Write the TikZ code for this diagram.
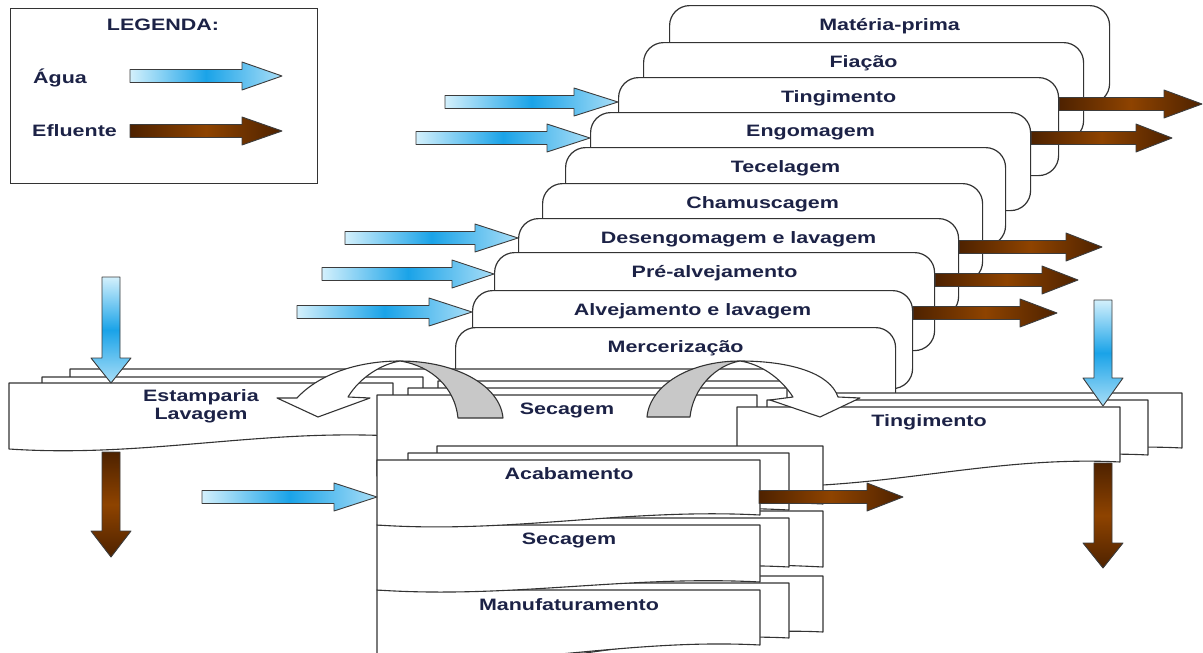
\documentclass[tikz,border=0pt]{standalone}
\usepackage{fontspec}
\newfontfamily\labfont[FakeStretch=1.3]{Liberation Sans}
\usetikzlibrary{calc}
\definecolor{ink}{HTML}{1C2246}
\definecolor{edge}{HTML}{333333}
\definecolor{arrowedge}{HTML}{3C3C3C}
\definecolor{wlight}{HTML}{D3F0FC}
\definecolor{wmid}{HTML}{1AA3E8}
\definecolor{wtip}{HTML}{A9DEF7}
\definecolor{edark}{HTML}{4E2200}
\definecolor{emid}{HTML}{8E4300}
\definecolor{gfill}{HTML}{C8C8C8}

\tikzset{
 card/.style={draw=edge, line width=1.2pt, fill=white, rounded corners=20pt, minimum width=440pt, minimum height=98pt, inner sep=0pt, anchor=north west},
 lab/.style={font=\labfont\bfseries\fontsize{16.5}{18}\selectfont, text=ink, inner sep=0pt},
 sheet/.style={draw=edge, line width=1.1pt, fill=white, line join=round},
 water/.style={draw=arrowedge, line width=0.9pt, line join=round, left color=wlight, right color=wtip, middle color=wmid},
 eff/.style={draw=arrowedge, line width=0.9pt, line join=round, left color=edark, right color=edark, middle color=emid},
 vwater/.style={draw=arrowedge, line width=0.9pt, line join=round, top color=wlight, bottom color=wtip, middle color=wmid},
 veff/.style={draw=arrowedge, line width=0.9pt, line join=round, top color=edark, bottom color=edark, middle color=emid},
 curv/.style={draw=edge, line width=1.1pt, line join=round},
}

% horizontal block arrow: [head length]{style}{from}{to}
\newcommand\harr[4][40]{\path[#2] let \p1=(#3), \p2=(#4) in
  (\x1,{\y1+6.5pt}) -- ({\x2-#1pt},{\y1+6.5pt}) -- ({\x2-#1pt},{\y1+14pt}) -- (\x2,\y1)
  -- ({\x2-#1pt},{\y1-14pt}) -- ({\x2-#1pt},{\y1-6.5pt}) -- (\x1,{\y1-6.5pt}) -- cycle;}
% vertical (downward) block arrow
\newcommand\varr[4][26]{\path[#2] let \p1=(#3), \p2=(#4) in
  ({\x1-9pt},\y1) -- ({\x1-9pt},{\y2+#1pt}) -- ({\x1-20pt},{\y2+#1pt}) -- (\x1,\y2)
  -- ({\x1+20pt},{\y2+#1pt}) -- ({\x1+9pt},{\y2+#1pt}) -- ({\x1+9pt},\y1) -- cycle;}
% document sheet: L, T, R, bottom-left, bottom-right
\newcommand\docsheet[5]{\path[sheet] (#1,#2) -- (#3,#2) -- (#3,#5)
  .. controls ({0.35*#1+0.65*#3},{#5-7}) and ({0.65*#1+0.35*#3},{#4+9}) .. (#1,#4) -- cycle;}

\begin{document}
\begin{tikzpicture}[x=1pt, y=-1pt]
\useasboundingbox (0,0) rectangle (1203,653);
\clip (0,0) rectangle (1203,653);

% ---------- legend ----------
\node[draw=edge, line width=1.2pt, minimum width=307pt, minimum height=175pt, anchor=north west, inner sep=0pt] (leg) at (10,8) {};
\node[lab] (legt) at (163,25) {LEGENDA:};
\node[lab, anchor=west] (agua) at (33,78) {Água};
\node[lab, anchor=west] (eflu) at (32,131) {Efluente};
\coordinate (la1) at (130,76); \coordinate (la2) at (282,76);
\harr{water}{la1}{la2}
\coordinate (le1) at (130,131); \coordinate (le2) at (282,131);
\harr{eff}{le1}{le2}

% ---------- upper cascade ----------
\node[card] (c1) at (669,5) {};
\node[lab] (t1) at ([yshift=-21pt]c1.north) {Matéria-prima};
\node[card] (c2) at (643,42) {};
\node[lab] (t2) at ([yshift=-21pt]c2.north) {Fiação};
\node[card] (c3) at (618,77) {};
\node[lab] (t3) at ([yshift=-21pt]c3.north) {Tingimento};
\node[card] (c4) at (590,112) {};
\node[lab] (t4) at ([yshift=-21pt]c4.north) {Engomagem};
\node[card] (c5) at (565,147) {};
\node[lab] (t5) at ([yshift=-21pt]c5.north) {Tecelagem};
\node[card] (c6) at (542,183) {};
\node[lab] (t6) at ([yshift=-21pt]c6.north) {Chamuscagem};
\node[card] (c7) at (518,218) {};
\node[lab] (t7) at ([yshift=-21pt]c7.north) {Desengomagem e lavagem};
\node[card] (c8) at (494,252) {};
\node[lab] (t8) at ([yshift=-21pt]c8.north) {Pré-alvejamento};
\node[card] (c9) at (472,290) {};
\node[lab] (t9) at ([yshift=-21pt]c9.north) {Alvejamento e lavagem};
\node[card] (c10) at (455,327) {};
\node[lab] (t10) at ([yshift=-21pt]c10.north) {Mercerização};

% water inputs
\coordinate (w3) at (445,102); \harr[44]{water}{w3}{c3.west |- w3}
\coordinate (w4) at (416,138); \harr[43]{water}{w4}{c4.west |- w4}
\coordinate (w7) at (345,238); \harr[43]{water}{w7}{c7.west |- w7}
\coordinate (w8) at (322,274); \harr[42]{water}{w8}{c8.west |- w8}
\coordinate (w9) at (297,312); \harr[43]{water}{w9}{c9.west |- w9}
% effluent outputs
\coordinate (e3) at (1202,104); \harr[38]{eff}{c3.east |- e3}{e3}
\coordinate (e4) at (1172,138); \harr[36]{eff}{c4.east |- e4}{e4}
\coordinate (e7) at (1102,247); \harr[36]{eff}{c7.east |- e7}{e7}
\coordinate (e8) at (1078,280); \harr[36]{eff}{c8.east |- e8}{e8}
\coordinate (e9) at (1057,313); \harr[37]{eff}{c9.east |- e9}{e9}

% ---------- lower stacks ----------
% Estamparia / Lavagem
\docsheet{70}{369}{787}{432}{425}
\docsheet{42}{377}{423}{440}{432}
\docsheet{9}{383}{393}{449}{436}
\node[lab] (estamp) at (201,397) {Estamparia};
\node[lab] (lavag) at (201,416) {Lavagem};
% Secagem (upper)
\docsheet{438}{381}{817}{476}{470}
\docsheet{408}{388}{787}{476}{470}
\docsheet{377}{395}{757}{476}{470}
\node[lab] (sec1) at (567,410) {Secagem};
% Tingimento (right)
\docsheet{797}{393}{1182}{470}{448}
\docsheet{767}{400}{1148}{478}{455}
\docsheet{737}{407}{1120}{485}{462}
\node[lab] (ting2) at (929,422) {Tingimento};
% Manufaturamento
\docsheet{437}{576}{823}{660}{632}
\docsheet{408}{583}{789}{660}{638}
\docsheet{377}{590}{760}{660}{645}
\node[lab] (manuf) at (569,605) {Manufaturamento};
% Secagem (lower)
\docsheet{437}{511}{823}{562}{567}
\docsheet{408}{518}{789}{575}{567}
\docsheet{377}{525}{760}{590}{582}
\node[lab] (sec2) at (569,540) {Secagem};
% Acabamento
\docsheet{437}{446}{823}{500}{504}
\docsheet{408}{453}{789}{512}{510}
\docsheet{377}{460}{760}{525}{515}
\node[lab] (acab) at (569,474) {Acabamento};

% ---------- curved arrows ----------
\path[curv, fill=gfill] (400,361) .. controls (455,361) and (500,385) .. (503,418) -- (458,418)
  .. controls (455,388) and (432,366) .. (400,361) -- cycle;
\path[curv, fill=white] (348,397) -- (370,398) -- (318,417) -- (277,398) -- (297,398)
  .. controls (320,373) and (360,361) .. (400,361) .. controls (382,364) and (360,377) .. (348,397) -- cycle;

\path[curv, fill=gfill] (647,417) .. controls (650,385) and (690,361) .. (740,361)
  .. controls (716,365) and (693,388) .. (690,417) -- cycle;
\path[curv, fill=white] (740,361) .. controls (790,361) and (830,373) .. (838,397) -- (860,398)
  -- (820,417) -- (770,400) -- (793,397) .. controls (780,377) and (760,364) .. (740,361) -- cycle;

% ---------- lower arrows ----------
\coordinate (wa) at (111,277); \coordinate (wat) at (111,383); \varr[25]{vwater}{wa}{wat}
\coordinate (ea) at (111,452); \coordinate (eat) at (111,557); \varr[26]{veff}{ea}{eat}
\coordinate (wt) at (1103,300); \coordinate (wtt) at (1103,406); \varr[28]{vwater}{wt}{wtt}
\coordinate (et) at (1103,463); \coordinate (ett) at (1103,568); \varr[25]{veff}{et}{ett}
\coordinate (wac) at (202,497); \coordinate (wact) at (377,497); \harr[43]{water}{wac}{wact}
\coordinate (eac) at (759,497); \coordinate (eact) at (903,497); \harr[36]{eff}{eac}{eact}
\end{tikzpicture}
\end{document}
